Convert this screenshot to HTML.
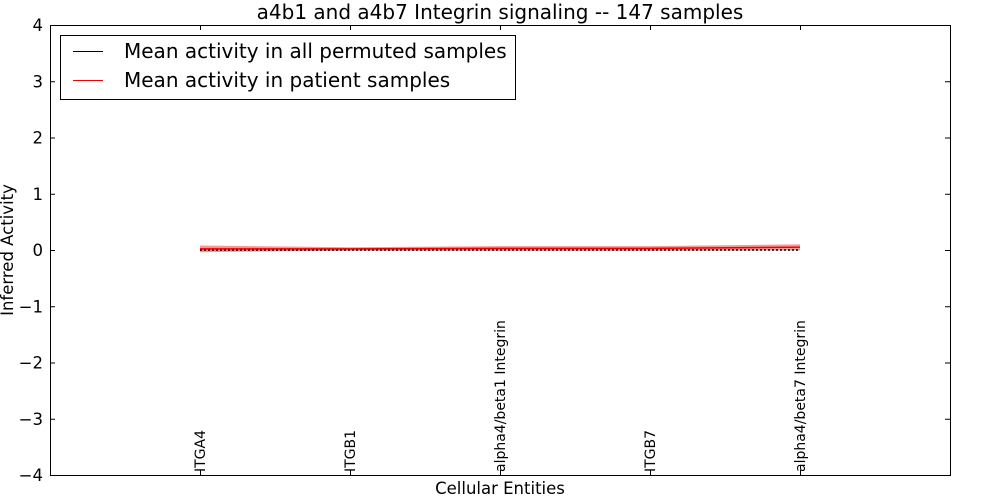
<!DOCTYPE html>
<html><head><meta charset="utf-8"><style>body{margin:0;background:#fff}svg{display:block;font-family:"DejaVu Sans","Liberation Sans",sans-serif}</style></head>
<body>
<svg id="c" width="1000" height="500"></svg>
<script>
const categories=["ITGA4","ITGB1","alpha4/beta1 Integrin","ITGB7","alpha4/beta7 Integrin"];
const permMean=[0,0,0,0,0];
const permErr=[0.01,0.01,0.01,0.01,0.01];
const patMean=[0.02,0.02,0.03,0.03,0.05];
const patErr=[0.06,0.03,0.04,0.04,0.05];
const yTicks=[-4,-3,-2,-1,0,1,2,3,4];
const L=50,R=950,T=25,B=475;
const xs=i=>L+(i+1)*150;
const y=v=>T+(4-v)*(B-T)/8;
const svg=document.getElementById('c');const NS='http://www.w3.org/2000/svg';
function mk(t,a,txt){const e=document.createElementNS(NS,t);for(const k in a)e.setAttribute(k,a[k]);if(txt!==undefined)e.textContent=txt;svg.appendChild(e);return e;}
let e;
e=mk('text',{x:500,y:19,'text-anchor':'middle','font-size':20},'a4b1 and a4b7 Integrin signaling -- 147 samples');

function band(m,er,fill,op,name){let p='';m.forEach((v,i)=>p+=(i?'L':'M')+xs(i)+','+y(v+er[i]));for(let i=m.length-1;i>=0;i--)p+='L'+xs(i)+','+y(m[i]-er[i]);e=mk('path',{d:p+'Z',fill:fill,'fill-opacity':op});}
band(permMean,permErr,'#888',0.4,'permuted-band');
band(patMean,patErr,'#e00',0.4,'patient-band');
e=mk('polyline',{points:permMean.map((v,i)=>xs(i)+','+y(v)).join(' '),fill:'none',stroke:'#000','stroke-width':1.5,'stroke-dasharray':'2,2'});

e=mk('polyline',{points:patMean.map((v,i)=>xs(i)+','+y(v)).join(' '),fill:'none',stroke:'#e00','stroke-width':1.5});

e=mk('rect',{x:L+0.5,y:T+0.5,width:R-L,height:B-T,fill:'none',stroke:'#000','stroke-width':1});

yTicks.forEach(v=>{mk('line',{x1:L,x2:L+5,y1:y(v)+0.5,y2:y(v)+0.5,stroke:'#000'});mk('line',{x1:R,x2:R-5,y1:y(v)+0.5,y2:y(v)+0.5,stroke:'#000'});
e=mk('text',{x:L-7,y:y(v)+6,'text-anchor':'end','font-size':16.5},(v<0?'\u2212':'')+Math.abs(v));});
categories.forEach((c,i)=>{mk('line',{x1:xs(i)+0.5,x2:xs(i)+0.5,y1:B,y2:B-5,stroke:'#000'});mk('line',{x1:xs(i)+0.5,x2:xs(i)+0.5,y1:T,y2:T+5,stroke:'#000'});
e=mk('text',{x:0,y:0,'font-size':14,transform:`translate(${xs(i)+5},${B-3}) rotate(-90)`},c);});
e=mk('text',{x:500,y:494,'text-anchor':'middle','font-size':16.5},'Cellular Entities');
e=mk('text',{x:0,y:0,'text-anchor':'middle','font-size':16.5,transform:'translate(13,250) rotate(-90)'},'Inferred Activity');
e=mk('rect',{x:60.5,y:35.5,width:455,height:64,fill:'#fff',stroke:'#000'});
mk('line',{x1:73,x2:103,y1:51.5,y2:51.5,stroke:'#000'});
e=mk('text',{x:124,y:58,'font-size':20},'Mean activity in all permuted samples');
mk('line',{x1:73,x2:103,y1:80.5,y2:80.5,stroke:'#e00'});
e=mk('text',{x:124,y:87,'font-size':20},'Mean activity in patient samples');
</script>
</body></html>
